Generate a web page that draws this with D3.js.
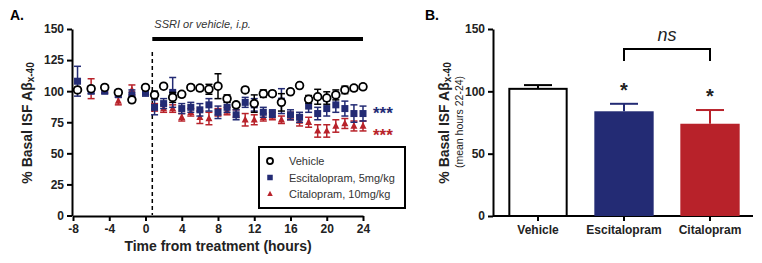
<!DOCTYPE html>
<html>
<head>
<meta charset="utf-8">
<script src="https://cdn.jsdelivr.net/npm/d3@7"></script>
<style>
  body { margin: 0; background: #fff; }
  svg { font-family: "Liberation Sans", Arial, sans-serif; }
</style>
</head>
<body>
<svg id="chart" width="762" height="263"></svg>
<script>
// Panel A: time course (hours), mean and SEM per group
const hours = [-7.5, -6, -4.5, -3, -1.5, 0, 1, 2, 3, 4, 5, 6, 7, 8, 9, 10, 11, 12,
	13, 14, 15, 16, 17, 18, 19, 20, 21, 22, 23, 24]
const vehicleMean = [101, 102, 103, 99, 93, 103, 97, 104, 95, 97.5, 103, 102.5, 101.5, 104,
	94, 89, 101, 90, 98, 98, 91, 99.5, 104.5, 93.5, 95.5, 94.5, 97, 101, 102.5, 103.5]
const vehicleErr = [2, 2, 2, 2, 2, 2, 3, 2, 4, 2, 2, 2, 4, 10, 3, 2, 2, 7, 3, 2, 7, 2, 2, 3,
	6, 5, 4, 3, 2, 2]
const escitMean = [108, 100, 100, 98, 97, 99, 87, 90, 99, 86, 87, 85, 89, 83, 87, 81, 91,
	89, 83, 82, 92, 81, 79, 88, 82, 86, 89, 86, 82, 82]
const escitErr = [12, 2, 2, 3, 4, 3, 6, 4, 12, 4, 4, 5, 5, 5, 4, 4, 4, 5, 4, 3, 10, 4, 4,
	5, 5, 6, 6, 6, 7, 6]
const citalMean = [101, 102, 101, 92, 101, 100, 87, 86, 86, 79, 83, 79, 78, 83, 84, 82, 77,
	77, 79, 80, 77, 80, 76, 75, 68, 68, 72, 74, 72, 72]
const citalErr = [2, 8, 2, 3, 4, 2, 3, 3, 3, 3, 3, 5, 5, 3, 3, 3, 5, 4, 3, 3, 3, 3, 4, 4,
	5, 5, 5, 4, 4, 4]
const xTicksA = [-8, -4, 0, 4, 8, 12, 16, 20, 24]
const yTicksA = [0, 25, 50, 75, 100, 125, 150]
const treatStart = 0.75
const treatEnd = 24

// Panel B: mean hours 22-24
const groups = ["Vehicle", "Escitalopram", "Citalopram"]
const groupMean = [102, 84, 74]
const groupErr = [3, 6, 11]
const yTicksB = [0, 50, 100, 150]

const BLUE = "#232b74"
const RED = "#b8222a"

const svg = d3.select("#chart")

// ---------- Panel A ----------
const xA = d3.scaleLinear().domain([-8, 24]).range([73, 363])
const yA = d3.scaleLinear().domain([0, 150]).range([215.5, 29])

const styleAxis = (g) => {
	g.select(".domain").attr("stroke", "#000").attr("stroke-width", 2)
	g.selectAll(".tick line").attr("stroke", "#000").attr("stroke-width", 2)
	g.selectAll(".tick text")
		.attr("fill", "#222")
		.style("font-size", "12px")
		.style("font-weight", "bold")
}
const plain = (d) => String(d) // hyphen minus like the original

svg.append("g")
	.attr("transform", "translate(72,0)")
	.call(d3.axisLeft(yA).tickValues(yTicksA).tickFormat(plain).tickSize(5).tickSizeOuter(0).tickPadding(3))
	.call(styleAxis)

svg.append("g")
	.attr("transform", "translate(0,216)")
	.call(d3.axisBottom(xA).tickValues(xTicksA).tickFormat(plain).tickSize(5).tickSizeOuter(0).tickPadding(3))
	.call(styleAxis)

// panel letters
svg.append("text").attr("x", 10).attr("y", 20).text("A.")
	.style("font-size", "14px").style("font-weight", "bold")
svg.append("text").attr("x", 425).attr("y", 20).text("B.")
	.style("font-size", "14px").style("font-weight", "bold")

// y label A
const yLabA = svg.append("text")
	.attr("transform", "translate(32,123) rotate(-90)")
	.attr("text-anchor", "middle")
	.style("font-size", "14px")
	.style("font-weight", "bold")
	.attr("fill", "#222")
yLabA.append("tspan").text("% Basal ISF A\u03b2")
yLabA.append("tspan").text("x-40").style("font-size", "10px").attr("dy", 2)

svg.append("text")
	.attr("x", 218).attr("y", 251)
	.attr("text-anchor", "middle")
	.style("font-size", "14px")
	.style("font-weight", "bold")
	.attr("fill", "#222")
	.text("Time from treatment (hours)")

// treatment bar and label
svg.append("line")
	.attr("x1", xA(treatStart)).attr("x2", xA(treatEnd))
	.attr("y1", 39).attr("y2", 39)
	.attr("stroke", "#000").attr("stroke-width", 4)
svg.append("text")
	.attr("x", xA(treatStart) + 2).attr("y", 28)
	.style("font-size", "11px").style("font-style", "italic")
	.attr("fill", "#333")
	.text("SSRI or vehicle, i.p.")

svg.append("line")
	.attr("x1", xA(treatStart)).attr("x2", xA(treatStart))
	.attr("y1", 52).attr("y2", 215)
	.attr("stroke", "#000").attr("stroke-width", 1.5)
	.attr("stroke-dasharray", "4,3")

const series = [
	{ name: "Citalopram, 10mg/kg", mean: citalMean, err: citalErr, color: RED, shape: "tri" },
	{ name: "Escitalopram, 5mg/kg", mean: escitMean, err: escitErr, color: BLUE, shape: "sq" },
	{ name: "Vehicle", mean: vehicleMean, err: vehicleErr, color: "#000", shape: "circ" },
]

const drawMarker = (g, shape, color, cx, cy, s) => {
	if (shape === "circ") {
		g.append("circle").attr("cx", cx).attr("cy", cy).attr("r", s * 0.55)
			.attr("fill", "#fff").attr("stroke", "#000").attr("stroke-width", 1.8)
	} else if (shape === "sq") {
		g.append("rect").attr("x", cx - s / 2).attr("y", cy - s / 2)
			.attr("width", s).attr("height", s).attr("fill", color)
	} else {
		const h = s * 0.95
		g.append("path")
			.attr("d", `M${cx},${cy - h * 0.6}L${cx + s / 2},${cy + h * 0.4}L${cx - s / 2},${cy + h * 0.4}Z`)
			.attr("fill", color)
	}
}

series.forEach((sr) => {
	const g = svg.append("g")
	hours.forEach((h, i) => {
		const cx = xA(h)
		const yHi = yA(sr.mean[i] + sr.err[i])
		const yLo = yA(sr.mean[i] - sr.err[i])
		g.append("line").attr("x1", cx).attr("x2", cx).attr("y1", yHi).attr("y2", yLo)
			.attr("stroke", sr.color).attr("stroke-width", 1.5)
		;[yHi, yLo].forEach((yy) => {
			g.append("line").attr("x1", cx - 3.5).attr("x2", cx + 3.5).attr("y1", yy).attr("y2", yy)
				.attr("stroke", sr.color).attr("stroke-width", 1.5)
		})
		drawMarker(g, sr.shape, sr.color, cx, yA(sr.mean[i]), 7)
	})
})

// significance stars
svg.append("text").attr("x", 373).attr("y", 119)
	.style("font-size", "17px").style("font-weight", "bold")
	.attr("fill", BLUE).text("***")
svg.append("text").attr("x", 373).attr("y", 141)
	.style("font-size", "17px").style("font-weight", "bold")
	.attr("fill", RED).text("***")

// legend
const legend = svg.append("g")
legend.append("rect")
	.attr("x", 259).attr("y", 147).attr("width", 146).attr("height", 61)
	.attr("fill", "#fff").attr("stroke", "#000").attr("stroke-width", 2)
const legendItems = [series[2], series[1], series[0]]
legendItems.forEach((sr, i) => {
	const ly = 161 + i * 16.5
	drawMarker(legend, sr.shape, sr.color, 270, ly, 5.5)
	legend.append("text").attr("x", 289).attr("y", ly + 4)
		.style("font-size", "11px").attr("fill", "#333").text(sr.name)
})

// ---------- Panel B ----------
const xB = d3.scaleBand().domain(groups).range([495, 753]).paddingInner(0.31).paddingOuter(0.155)
const yB = d3.scaleLinear().domain([0, 150]).range([216, 29])
const barColors = ["#fff", BLUE, RED]
const errColors = ["#000", BLUE, RED]

svg.append("g")
	.attr("transform", "translate(493,0)")
	.call(d3.axisLeft(yB).tickValues(yTicksB).tickFormat(plain).tickSize(5).tickSizeOuter(0).tickPadding(3))
	.call(styleAxis)

const xAxisB = svg.append("g")
	.attr("transform", "translate(0,216)")
	.call(d3.axisBottom(xB).tickSize(5).tickSizeOuter(0).tickPadding(4))
	.call(styleAxis)
xAxisB.select(".domain").attr("d", "M493,0H753")

groups.forEach((grp, i) => {
	const x0 = xB(grp)
	const cx = x0 + xB.bandwidth() / 2
	const top = yB(groupMean[i] + groupErr[i])
	svg.append("line").attr("x1", cx).attr("x2", cx)
		.attr("y1", yB(groupMean[i])).attr("y2", top)
		.attr("stroke", errColors[i]).attr("stroke-width", 2)
	svg.append("line").attr("x1", cx - 14).attr("x2", cx + 14)
		.attr("y1", top).attr("y2", top)
		.attr("stroke", errColors[i]).attr("stroke-width", 2)
	if (i === 0) {
		svg.append("rect")
			.attr("x", x0 + 1).attr("y", yB(groupMean[i]))
			.attr("width", xB.bandwidth() - 2).attr("height", yB(0) - yB(groupMean[i]))
			.attr("fill", "#fff").attr("stroke", "#000").attr("stroke-width", 2)
	} else {
		svg.append("rect")
			.attr("x", x0).attr("y", yB(groupMean[i]))
			.attr("width", xB.bandwidth()).attr("height", yB(0) - yB(groupMean[i]))
			.attr("fill", barColors[i])
	}
})

// stars above drug bars
;[1, 2].forEach((i) => {
	const cx = xB(groups[i]) + xB.bandwidth() / 2
	svg.append("text").attr("x", cx).attr("y", yB(groupMean[i] + groupErr[i]) - 7)
		.attr("text-anchor", "middle")
		.style("font-size", "20px").style("font-weight", "bold")
		.attr("fill", "#222").text("*")
})

// ns bracket
const bx1 = xB(groups[1]) + xB.bandwidth() / 2
const bx2 = xB(groups[2]) + xB.bandwidth() / 2
svg.append("path")
	.attr("d", `M${bx1},61V49H${bx2}V61`)
	.attr("fill", "none").attr("stroke", "#000").attr("stroke-width", 2)
svg.append("text").attr("x", (bx1 + bx2) / 2).attr("y", 41)
	.attr("text-anchor", "middle")
	.style("font-size", "18px").style("font-style", "italic")
	.attr("fill", "#222").text("ns")

// y label B
const yLabB = svg.append("text")
	.attr("transform", "translate(449,123) rotate(-90)")
	.attr("text-anchor", "middle")
	.style("font-size", "14px")
	.style("font-weight", "bold")
	.attr("fill", "#222")
yLabB.append("tspan").text("% Basal ISF A\u03b2")
yLabB.append("tspan").text("x-40").style("font-size", "10px").attr("dy", 2)
svg.append("text")
	.attr("transform", "translate(463,122) rotate(-90)")
	.attr("text-anchor", "middle")
	.style("font-size", "10.5px")
	.attr("fill", "#222")
	.text("(mean hours 22-24)")
</script>
</body>
</html>
